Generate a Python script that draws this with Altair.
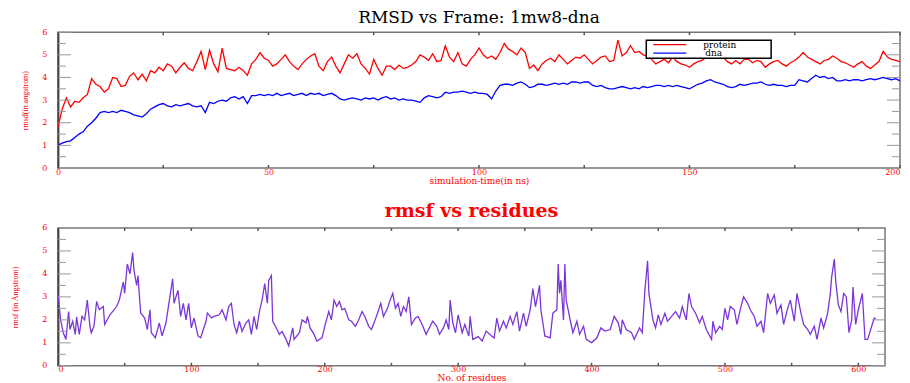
import altair as alt
import pandas as pd

# ---------------- data ----------------
time_ns = list(range(0, 201))
protein = [
    1.8, 2.6, 3.1, 2.7, 2.95, 2.9, 3.1, 3.25, 3.95, 3.7,
    3.6, 3.35, 3.5, 4.0, 3.95, 3.6, 3.65, 4.05, 4.2, 3.9,
    4.15, 3.85, 4.3, 4.2, 4.45, 4.3, 4.6, 4.5, 4.2, 4.45,
    4.65, 4.4, 4.3, 4.7, 5.15, 4.35, 5.2, 4.6, 4.25, 5.3,
    4.4, 4.35, 4.3, 4.45, 4.3, 4.1, 4.6, 4.8, 5.1, 4.85,
    4.75, 4.5, 4.6, 4.8, 5.0, 4.7, 4.5, 4.35, 4.6, 4.8,
    4.95, 5.05, 4.5, 4.3, 4.7, 4.9, 4.5, 4.2, 4.6, 5.0,
    4.85, 5.05, 4.6, 4.4, 4.15, 4.8, 4.4, 4.1, 4.5, 4.5,
    4.35, 4.55, 4.4, 4.45, 4.55, 4.7, 5.0, 4.9, 4.75, 5.05,
    4.7, 4.75, 5.4, 4.9, 4.7, 5.1, 4.6, 4.5, 4.8, 5.0,
    5.3, 5.0, 4.85, 4.95, 4.8, 5.1, 5.5, 5.25, 5.15, 5.0,
    5.3, 5.1, 4.4, 4.55, 4.3, 4.6, 4.75, 4.85, 4.7, 5.0,
    4.8, 4.6, 4.75, 4.9, 4.85, 5.0, 4.8, 4.6, 4.75, 4.9,
    4.95, 4.7, 4.75, 5.65, 4.95, 5.1, 5.4, 5.1, 5.15, 5.0,
    4.95, 4.8, 4.6, 4.7, 4.8, 4.65, 4.9, 4.7, 4.6, 4.55,
    4.45, 4.6, 4.7, 4.75, 4.9, 5.0, 5.15, 4.95, 4.9, 4.7,
    4.6, 4.75, 4.6, 4.8, 4.8, 4.65, 4.75, 4.7, 4.45, 4.6,
    4.7, 4.75, 4.6, 4.5, 4.65, 4.75, 4.9, 5.1, 4.9, 4.8,
    4.7, 4.6, 4.75, 4.8, 4.95, 4.85, 4.7, 4.65, 4.55, 4.45,
    4.6, 4.7, 4.5, 4.4, 4.55, 4.7, 5.15, 4.9, 4.8, 4.75, 4.7,
]
dna = [
    1.0, 1.1, 1.17, 1.2, 1.35, 1.5, 1.6, 1.85, 2.0, 2.2,
    2.45, 2.5, 2.45, 2.5, 2.45, 2.55, 2.5, 2.45, 2.35, 2.3,
    2.25, 2.4, 2.6, 2.7, 2.8, 2.85, 2.75, 2.7, 2.8, 2.75,
    2.8, 2.85, 2.75, 2.7, 2.75, 2.45, 2.9, 2.85, 2.95, 3.0,
    2.95, 3.1, 3.15, 3.05, 3.15, 2.85, 3.2, 3.2, 3.25, 3.2,
    3.25, 3.2, 3.3, 3.2, 3.25, 3.3, 3.2, 3.25, 3.3, 3.2,
    3.3, 3.25, 3.3, 3.2, 3.25, 3.3, 3.2, 3.05, 3.0, 3.05,
    3.1, 3.05, 3.0, 3.1, 3.05, 3.1, 3.0, 3.1, 3.15, 3.05,
    3.1, 3.0, 3.05, 3.0, 3.0, 2.95, 2.9, 3.1, 3.2, 3.15,
    3.1, 3.15, 3.35, 3.3, 3.35, 3.35, 3.4, 3.35, 3.3, 3.35,
    3.3, 3.3, 3.25, 3.05, 3.4, 3.65, 3.7, 3.7, 3.65, 3.75,
    3.8, 3.7, 3.55, 3.6, 3.7, 3.7, 3.65, 3.7, 3.75, 3.7,
    3.75, 3.7, 3.8, 3.8, 3.75, 3.8, 3.8, 3.65, 3.6, 3.65,
    3.55, 3.5, 3.5, 3.55, 3.6, 3.55, 3.5, 3.55, 3.5, 3.6,
    3.55, 3.6, 3.65, 3.65, 3.6, 3.65, 3.6, 3.65, 3.6, 3.55,
    3.5, 3.6, 3.7, 3.75, 3.85, 3.9, 3.8, 3.75, 3.7, 3.6,
    3.55, 3.6, 3.7, 3.65, 3.7, 3.75, 3.75, 3.8, 3.7, 3.65,
    3.7, 3.65, 3.65, 3.6, 3.65, 3.65, 3.9, 3.85, 3.8, 3.95,
    4.1, 4.0, 4.05, 3.95, 4.0, 3.85, 3.85, 3.9, 3.85, 3.9,
    3.9, 3.85, 3.9, 3.95, 3.9, 3.95, 4.0, 3.95, 3.9, 3.95, 3.85,
]

residues = [
    0, 2, 4, 6, 8, 9, 11, 13, 14, 16, 18, 20, 22, 24, 25, 27, 29, 31, 34, 35,
    39, 44, 46, 49, 50, 52, 54, 56, 57, 59, 60, 62, 65, 67, 69, 70, 73, 76, 78, 81,
    83, 86, 87, 90, 92, 94, 96, 98, 100, 102, 105, 107, 111, 112, 115, 117, 121, 123, 126, 128,
    130, 132, 134, 136, 138, 141, 143, 145, 147, 149, 151, 153, 155, 157, 158, 160, 161, 163, 166, 168,
    171, 173, 176, 177, 181, 183, 186, 187, 189, 192, 194, 198, 200, 203, 205, 207, 209, 211, 213, 215,
    218, 220, 223, 225, 228, 230, 233, 235, 237, 240, 242, 244, 247, 249, 251, 253, 255, 257, 259, 261,
    263, 265, 268, 270, 273, 276, 279, 281, 284, 286, 289, 291, 293,
    294, 296, 298, 300, 303, 305, 308, 309, 311, 315, 318, 321, 325, 327, 329, 331, 334, 336, 339, 341,
    344, 346, 349, 351, 354, 356, 358, 361, 362, 365, 369, 371, 374, 375, 376, 377, 379, 380, 381, 384,
    386, 389, 391, 394, 396, 400, 404, 407, 410, 414, 417, 420, 422, 423, 426, 430, 432, 436, 438, 440,
    442, 443, 446, 448, 450, 452, 455, 457, 460, 463, 466, 468, 471, 473, 475, 478, 481, 483, 486, 490,
    491, 493, 496, 498, 500, 502, 504, 507, 509, 512, 514, 517, 519, 522, 524, 527, 529, 532, 534, 537,
    539, 542, 544, 547, 549, 552, 554, 557, 559, 562, 564, 567, 569, 572, 574, 577, 579, 580, 582, 583,
    585, 587, 589, 591, 593, 595, 596, 598, 600, 603, 605, 607, 610, 612, 613,
]
rmsf = [
    3.15, 2.0, 1.44, 1.15, 2.36, 1.58, 1.94, 1.37, 2.12, 1.37, 2.15, 2.0, 2.86, 1.72, 1.44, 1.72, 2.8, 2.44, 2.58, 1.8,
    2.22, 2.58, 2.86, 3.65, 3.15, 4.43, 4.0, 4.93, 4.15, 3.5, 3.93, 2.3, 2.08, 1.58, 2.44, 1.44, 1.22, 1.87, 1.3, 1.87,
    2.65, 3.79, 2.72, 3.29, 2.15, 2.72, 2.0, 2.72, 1.65, 2.08, 1.3, 1.22, 1.94, 2.3, 2.08, 2.15, 2.22, 2.44, 2.0, 2.58,
    2.72, 1.8, 1.44, 1.94, 1.5, 1.87, 2.0, 1.37, 2.15, 1.58, 2.36, 2.86, 3.58, 2.72, 3.72, 3.93, 1.94, 1.72, 1.37, 1.5,
    1.15, 0.87, 1.65, 1.15, 1.44, 2.0, 1.87, 2.15, 1.65, 1.37, 1.08, 1.22, 1.72, 2.36, 2.0, 2.86, 2.58, 2.8, 2.44, 2.5,
    2.0, 1.94, 1.72, 1.94, 2.36, 2.15, 1.72, 1.58, 1.87, 2.36, 2.72, 2.15, 2.5, 2.86, 3.15, 2.5, 2.72, 2.15, 2.58, 2.36,
    3.0, 1.8, 2.08, 2.15, 1.8, 1.37, 1.72, 1.94, 1.72, 1.37, 1.65, 2.0, 1.58,
    2.86, 1.87, 1.44, 2.22, 1.44, 1.8, 1.3, 2.15, 1.15, 1.27, 1.08, 1.51, 1.3, 1.22, 2.08, 1.51, 1.94, 1.65, 2.15, 1.8,
    2.36, 1.51, 2.29, 1.72, 2.44, 3.36, 2.58, 3.5, 2.44, 1.3, 1.22, 2.29, 2.44, 4.43, 3.15, 3.72, 2.0, 4.43, 2.86, 2.0,
    1.44, 1.94, 1.37, 1.72, 1.15, 1.01, 1.22, 1.65, 1.51, 1.58, 2.15, 1.87, 1.37, 2.0, 1.58, 1.44, 1.15, 1.65, 1.44, 3.29,
    4.57, 3.15, 2.0, 1.65, 2.22, 1.8, 2.29, 1.94, 2.15, 2.36, 2.08, 2.58, 2.0, 3.15, 2.58, 2.29, 1.87, 2.15, 1.58, 1.15,
    1.94, 1.44, 1.72, 1.58, 2.5, 2.0, 2.58, 2.44, 1.8, 2.58, 3.0, 2.72, 2.44, 2.15, 1.72, 1.94, 1.44, 3.15, 2.72, 3.08,
    2.29, 2.65, 1.8, 2.5, 2.86, 1.94, 3.15, 2.29, 1.8, 1.58, 1.37, 1.72, 1.15, 2.08, 1.65, 2.29, 3.15, 3.86, 4.64, 3.72,
    2.65, 2.36, 3.15, 3.0, 1.44, 2.0, 3.43, 1.8, 2.44, 3.15, 1.15, 1.15, 1.72, 2.08, 2.04,
]

series_names = ["protein", "dna"]
y_major = [0, 1, 2, 3, 4, 5, 6]
y_minor = [0.5, 1.5, 2.5, 3.5, 4.5, 5.5]
top_xticks = [0, 25, 50, 75, 100, 125, 150, 175, 200]
top_xlabels = [0, 50, 100, 150, 200]
bot_xticks = [0, 50, 100, 150, 200, 250, 300, 350, 400, 450, 500, 550, 600]
bot_xlabels = [0, 100, 200, 300, 400, 500, 600]

# ---------------- styling ----------------
RED = "#ff0000"
BLUE = "#0000ff"
PURPLE = "#7a36d8"
TICK = "#9a9a9a"
SERIF = "DejaVu Serif"
NARROW = "Liberation Serif"

W1, H1 = 843, 136
W2, H2 = 828, 138

df_top = pd.concat([
    pd.DataFrame({"time": time_ns, "value": protein, "series": series_names[0]}),
    pd.DataFrame({"time": time_ns, "value": dna, "series": series_names[1]}),
])
df_rmsf = pd.DataFrame({"res": residues, "rmsf": rmsf})
df_ymaj = pd.DataFrame({"v": y_major})
df_ymin = pd.DataFrame({"v": y_minor})
df_tx = pd.DataFrame({"v": top_xticks})
df_bx = pd.DataFrame({"v": bot_xticks})
df_leg = pd.DataFrame({"series": series_names, "color": [RED, BLUE]})

ys = alt.Scale(domain=[0, 6], nice=False, zero=False)
xs1 = alt.Scale(domain=[0, 200], nice=False, zero=False)
xs2 = alt.Scale(domain=[0, 620], nice=False, zero=False)


def x_axis(values, title, lpad, tpad, align_expr=None):
    kw = dict(values=values, title=title, ticks=False, domain=False, grid=False,
              labelColor=RED, labelFont=SERIF, labelFontSize=8, labelPadding=lpad,
              titleColor=RED, titleFont=SERIF, titleFontSize=9, titleFontWeight="normal",
              titlePadding=tpad)
    if align_expr:
        kw["labelAlign"] = {"expr": align_expr}
    return alt.Axis(**kw)


def y_axis(title, pad):
    return alt.Axis(values=y_major, title=title, ticks=False, domain=True, domainColor="#444",
                    domainWidth=2, grid=False, labelColor=RED, labelFont=SERIF, labelFontSize=8,
                    labelPadding=11, titleColor=RED, titleFont=NARROW, titleFontSize=8,
                    titleFontWeight="normal", titlePadding=pad)


def tick_layers(xscale, xaxis, yaxis, df_x, W, H):
    def yr(df, x0, x1, color=TICK):
        return alt.Chart(df).mark_rule(color=color, strokeWidth=1).encode(
            y=alt.Y("v:Q", scale=ys, axis=yaxis), x=alt.value(x0), x2=alt.value(x1))

    def xr(y0, y1):
        return alt.Chart(df_x).mark_rule(color="#555", strokeWidth=1.5).encode(
            x=alt.X("v:Q", scale=xscale, axis=xaxis), y=alt.value(y0), y2=alt.value(y1))

    return [yr(df_ymaj, 0, 13), yr(df_ymin, 0, 8), yr(df_ymaj, W - 13, W), yr(df_ymin, W - 8, W),
            xr(0, 3), xr(H, H - 3)]


# ---------------- top panel ----------------
ax1 = x_axis(top_xlabels, "simulation-time(in ns)", 0, 0, "datum.value == 200 ? 'right' : 'center'")
ay1 = y_axis("rmsd(in angstrom)", 12)

top_lines = alt.Chart(df_top).mark_line(strokeWidth=1.3, clip=True).encode(
    x=alt.X("time:Q", scale=xs1, axis=ax1),
    y=alt.Y("value:Q", scale=ys, axis=ay1),
    color=alt.Color("series:N", scale=alt.Scale(domain=series_names, range=[RED, BLUE]), legend=None),
)

# legend drawn as marks inside the plot area
leg_box = alt.Chart(df_leg.head(1)).mark_rect(fill="white", stroke="black", strokeWidth=1.5).encode(
    x=alt.value(589), x2=alt.value(714), y=alt.value(8), y2=alt.value(26))
leg_p = alt.Chart(df_leg).transform_filter(alt.datum.series == series_names[0]).mark_rule(
    color=RED, strokeWidth=1.3).encode(x=alt.value(596), x2=alt.value(629), y=alt.value(12.5))
leg_d = alt.Chart(df_leg).transform_filter(alt.datum.series == series_names[1]).mark_rule(
    color=BLUE, strokeWidth=1.3).encode(x=alt.value(596), x2=alt.value(629), y=alt.value(21))
leg_pt = alt.Chart(df_leg).transform_filter(alt.datum.series == series_names[0]).mark_text(
    align="left", baseline="middle", font=SERIF, fontSize=9, color="black").encode(
    x=alt.value(646), y=alt.value(12.5), text="series:N")
leg_dt = alt.Chart(df_leg).transform_filter(alt.datum.series == series_names[1]).mark_text(
    align="left", baseline="middle", font=SERIF, fontSize=9, color="black").encode(
    x=alt.value(648), y=alt.value(21), text="series:N")

top = alt.layer(top_lines, *tick_layers(xs1, ax1, ay1, df_tx, W1, H1),
                leg_box, leg_p, leg_d, leg_pt, leg_dt).properties(
    width=W1, height=H1,
    title=alt.TitleParams("RMSD vs Frame: 1mw8-dna", font=SERIF, fontSize=17, fontWeight="normal",
                          color="black", anchor="middle", offset=1),
)

# ---------------- bottom panel ----------------
ax2 = x_axis(bot_xlabels, "No. of residues", 0, 0)
ay2 = y_axis("rmsf (in Angstrom)", 22)

bot_line = alt.Chart(df_rmsf).mark_line(strokeWidth=1.3, color=PURPLE, clip=True).encode(
    x=alt.X("res:Q", scale=xs2, axis=ax2),
    y=alt.Y("rmsf:Q", scale=ys, axis=ay2),
)
bottom = alt.layer(bot_line, *tick_layers(xs2, ax2, ay2, df_bx, W2, H2)).properties(
    width=W2, height=H2,
    title=alt.TitleParams("rmsf vs residues", font=SERIF, fontSize=19, fontWeight="bold",
                          color=RED, anchor="middle", offset=3),
)

chart = alt.vconcat(top, bottom, spacing=15).properties(
    padding={"left": 3, "top": 0, "right": 0, "bottom": 0}
).configure_view(stroke="#777", strokeWidth=1.5)

chart.save("out.html", embed_options={"renderer": "svg", "actions": False})
